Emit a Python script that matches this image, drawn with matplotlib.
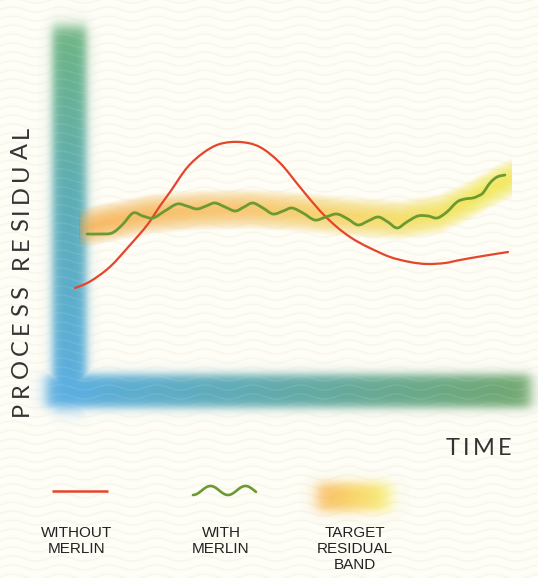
import numpy as np
import matplotlib
matplotlib.use("Agg")
import matplotlib.pyplot as plt
from matplotlib.patches import Polygon, PathPatch
from matplotlib.path import Path

# ---------------- data (arbitrary units) ----------------
# time: 0 .. 10 along the horizontal axis, residual: 0 at the time axis
red_time = [0.16, 0.50, 0.95, 1.41, 1.80, 2.09, 2.32, 2.70, 3.07, 3.45, 3.91, 4.36, 4.82,
            5.27, 5.73, 6.11, 6.41, 6.64, 6.86, 7.32, 7.77, 8.16, 8.57, 8.91, 9.43, 10.00]
red_resid = [4.16, 4.42, 5.00, 5.88, 6.68, 7.44, 8.00, 8.96, 9.56, 9.92, 10.00, 9.80, 9.16,
             8.20, 7.24, 6.60, 6.20, 5.96, 5.76, 5.40, 5.20, 5.12, 5.16, 5.28, 5.44, 5.60]

green_time = [0.43, 0.73, 1.00, 1.23, 1.48, 1.70, 1.93, 2.20, 2.48, 2.70, 2.93, 3.14, 3.34,
              3.57, 3.80, 4.00, 4.20, 4.43, 4.66, 4.89, 5.09, 5.34, 5.61, 5.86, 6.11, 6.36,
              6.59, 6.82, 7.05, 7.27, 7.48, 7.70, 7.95, 8.18, 8.39, 8.61, 8.84, 9.02, 9.20,
              9.32, 9.43, 9.59, 9.75, 9.93]
green_resid = [6.32, 6.32, 6.36, 6.68, 7.16, 7.04, 6.96, 7.24, 7.52, 7.44, 7.32, 7.44, 7.56,
               7.40, 7.24, 7.40, 7.56, 7.36, 7.12, 7.24, 7.36, 7.16, 6.88, 7.00, 7.12, 6.92,
               6.68, 6.84, 7.00, 6.80, 6.56, 6.80, 7.04, 7.04, 6.96, 7.20, 7.60, 7.72, 7.76,
               7.84, 7.96, 8.36, 8.60, 8.68]

band_time = [0.27, 0.95, 1.86, 3.00, 4.14, 5.27, 6.41, 7.55, 8.45, 9.14, 9.70, 10.09]
band_resid = [6.56, 6.80, 7.12, 7.28, 7.32, 7.20, 7.00, 6.88, 7.12, 7.68, 8.24, 8.56]

legend_labels = ["WITHOUT\nMERLIN", "WITH\nMERLIN", "TARGET\nRESIDUAL\nBAND"]
x_label = "TIME"
y_label = "PROCESS RESIDUAL"

# ---------------- figure / coordinate helpers ----------------
W, H = 538, 578
fig = plt.figure(figsize=(W / 100, H / 100), dpi=100)
ax = fig.add_axes([0, 0, 1, 1])
PX0, PXS = 68.0, 44.0
PY0, PYS = 392.0, 25.0


def X(px):
    return (np.asarray(px, dtype=float) - PX0) / PXS


def Y(py):
    return (PY0 - np.asarray(py, dtype=float)) / PYS


ax.set_xlim(X(0), X(W))
ax.set_ylim(Y(H), Y(0))
ax.axis("off")
EXT = (float(X(0)), float(X(W)), float(Y(H)), float(Y(0)))

yy, xx = np.mgrid[0:H, 0:W].astype(float)

# ---------------- background texture ----------------
wave = np.cos(2 * np.pi * (yy + 2.5 * np.sin(2 * np.pi * xx / 48.0)) / 9.0)
tex = np.clip(wave, 0, 1) ** 6
c0 = np.array([254, 253, 246]) / 255.0
c1 = np.array([241, 237, 220]) / 255.0
bg = c0 + (c1 - c0) * tex[..., None] * 0.45
ax.imshow(bg, extent=EXT, origin="upper", aspect="auto", zorder=0,
          interpolation="bilinear")


def smooth_box(v, a, b, s):
    return 0.5 * (np.tanh((v - a) / s) - np.tanh((v - b) / s))


def ramp(v, stops, cols):
    cols = np.array(cols, dtype=float) / 255.0
    return np.stack([np.interp(v, stops, cols[:, k]) for k in range(3)], axis=-1)


# ---------------- blurred L-shaped axes ----------------
av = smooth_box(xx, 52, 86, 5.5) * smooth_box(yy, 26, 408, 8.0)
cv = ramp(yy, [30, 200, 400], [(92, 172, 118), (74, 164, 176), (72, 166, 224)])
ah = smooth_box(yy, 374, 407, 5.5) * smooth_box(xx, 46, 530, 8.0)
ch = ramp(xx, [60, 260, 520], [(72, 166, 224), (78, 162, 168), (96, 158, 98)])
tot = av + ah + 1e-9
col = (cv * av[..., None] + ch * ah[..., None]) / tot[..., None]
alpha = np.maximum(av, ah) * (0.9 - 0.1 * tex)
axes_img = np.dstack([col, np.clip(alpha, 0, 1)])
ax.imshow(axes_img, extent=EXT, origin="upper", aspect="auto", zorder=1,
          interpolation="bilinear")

# ---------------- target residual band (soft glow) ----------------
band_col = ramp(xx[0], [80, 250, 380, 480], [(247, 170, 62), (248, 190, 82),
                                             (246, 214, 72), (243, 232, 60)])
band_fade = smooth_box(xx[0], 82, 520, 9.0)
bt = np.array(band_time)
br = np.array(band_resid)
for h in np.linspace(0.10, 0.80, 16):
    grad = np.zeros((2, W, 4))
    grad[:, :, :3] = band_col[None]
    grad[:, :, 3] = band_fade[None] * 0.085
    verts = np.vstack([np.column_stack([bt, br + h]),
                       np.column_stack([bt[::-1], br[::-1] - h])])
    poly = Polygon(verts, closed=True, transform=ax.transData,
                   facecolor="none", edgecolor="none")
    im = ax.imshow(grad, extent=(EXT[0], EXT[1], 4.0, 10.0), origin="upper",
                   aspect="auto", zorder=2, interpolation="bilinear")
    im.set_clip_path(poly)


# ---------------- curves (smooth path through the read points) ----------------
def smooth_path(xs, ys):
    # work in pixel-like space so the smoothing is isotropic
    q = np.column_stack([np.asarray(xs, float) * PXS, np.asarray(ys, float) * PYS])
    ext = np.vstack([q[0], q, q[-1]])
    verts = [q[0]]
    codes = [Path.MOVETO]
    for i in range(len(q) - 1):
        p0, p1, p2, p3 = ext[i], ext[i + 1], ext[i + 2], ext[i + 3]
        verts += [p1 + (p2 - p0) / 6.0, p2 - (p3 - p1) / 6.0, p2]
        codes += [Path.CURVE4] * 3
    verts = np.array(verts)
    verts = np.column_stack([verts[:, 0] / PXS, verts[:, 1] / PYS])
    return Path(verts, codes)


RED = "#e5452b"
GREEN = "#6b9a33"
ax.add_patch(PathPatch(smooth_path(red_time, red_resid), facecolor="none",
                       edgecolor=RED, lw=1.6, zorder=4, capstyle="round"))
ax.add_patch(PathPatch(smooth_path(green_time, green_resid), facecolor="none",
                       edgecolor=GREEN, lw=2.0, zorder=5, capstyle="round"))
ax.set_xlim(EXT[0], EXT[1])
ax.set_ylim(EXT[2], EXT[3])

# ---------------- legend ----------------
ax.plot(X([52, 108]), Y([491, 491]), color=RED, lw=1.8, zorder=4,
        solid_capstyle="butt")
lx = np.linspace(193, 256, 80)
ly = 490.5 - 4.5 * np.sin(2 * np.pi * (lx - 193) / 35.0 - np.pi / 2)
ax.plot(X(lx), Y(ly), color=GREEN, lw=1.9, zorder=4, solid_capstyle="round")

bx0, bx1, by0, by1 = 300, 410, 470, 526
sx, sy = np.meshgrid(np.arange(bx0, bx1) + 0.5, np.arange(by0, by1) + 0.5)
blob_a = smooth_box(sx, 318, 390, 9.0) * smooth_box(sy, 484, 511, 6.0) * 0.8
blob_c = ramp(sx, [320, 350, 388], [(247, 172, 60), (248, 200, 70), (246, 234, 90)])
blob = np.dstack([blob_c, blob_a])
ax.imshow(blob, extent=(float(X(bx0)), float(X(bx1)), float(Y(by1)), float(Y(by0))),
          origin="upper", aspect="auto", zorder=3, interpolation="bilinear")

for cx, lab in zip([77, 221, 355], legend_labels):
    ax.text(X(cx), Y(526), lab, ha="center", va="top", fontsize=11,
            family=["Liberation Sans", "DejaVu Sans"], color="#222222",
            linespacing=1.18, zorder=6)

# ---------------- letter-spaced axis titles ----------------
renderer = fig.canvas.get_renderer()
TKW = dict(fontsize=17, family=["Lato", "DejaVu Sans"], fontweight="normal",
           color="#333333", zorder=6)


def char_widths(s):
    out = []
    for chh in s:
        if chh == " ":
            out.append(None)
            continue
        t = ax.text(0, 0, chh, **TKW)
        out.append(t.get_window_extent(renderer).width)
        t.remove()
    avg = np.mean([w for w in out if w is not None])
    return [0.55 * avg if w is None else w for w in out]


def spaced_horizontal(s, px_start, px_end, py_base):
    w = char_widths(s)
    gap = (px_end - px_start - sum(w)) / (len(s) - 1)
    pos = px_start
    for chh, wi in zip(s, w):
        if chh != " ":
            ax.text(X(pos), Y(py_base), chh, ha="left", va="baseline", **TKW)
        pos += wi + gap


def spaced_vertical(s, py_start, py_end, px_baseline):
    w = char_widths(s)
    gap = (py_start - py_end - sum(w)) / (len(s) - 1)
    pos = py_start
    for chh, wi in zip(s, w):
        if chh != " ":
            ax.text(X(px_baseline), Y(pos), chh, ha="right", va="bottom",
                    rotation=90, rotation_mode="default", **TKW)
        pos -= wi + gap


spaced_horizontal(x_label, 446, 511, 455)
spaced_vertical(y_label, 416, 126, 32)

fig.savefig("out.png", dpi=100)
